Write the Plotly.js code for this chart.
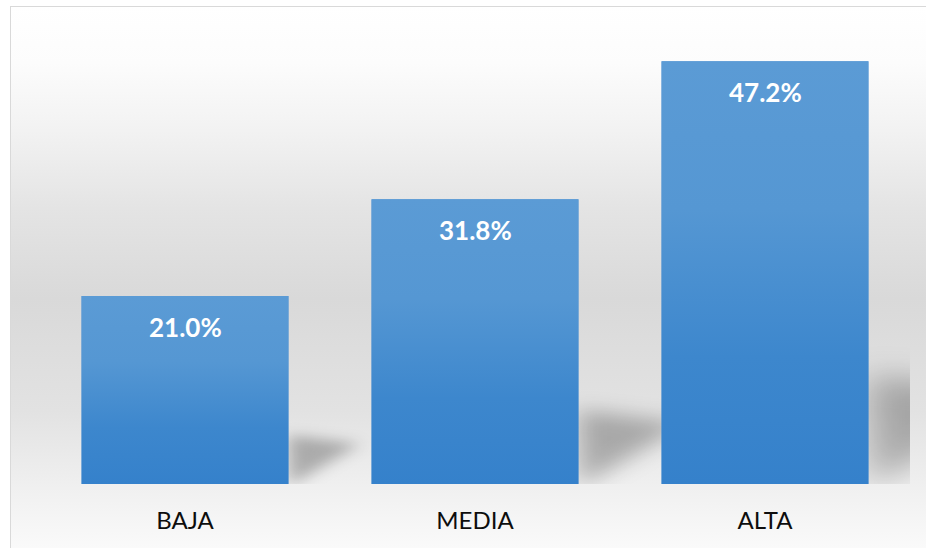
<!DOCTYPE html>
<html>
<head>
<meta charset="utf-8">
<script src="https://cdn.plot.ly/plotly-3.0.1.min.js"></script>
<style>
  html, body { margin: 0; padding: 0; background: #ffffff; overflow: hidden; }
  #bg {
    position: absolute; left: 10px; top: 6px; width: 940px; height: 560px;
    border: 1px solid #d9d9d9;
    background: linear-gradient(to bottom,
      #ffffff 0%, #fcfcfc 10%, #f3f3f3 21%, #e4e4e4 36%, #d9d9d9 52%,
      #e2e2e2 72%, #f1f1f1 87%, #fdfdfd 100%);
  }
  #chart { position: absolute; left: 0; top: 0; width: 926px; height: 548px; }
</style>
</head>
<body>
<div id="bg"></div>
<div id="chart"></div>
<script>
// ---- data ----
const categories = ['BAJA', 'MEDIA', 'ALTA'];
const values = [21.0, 31.8, 47.2];
const valueLabels = ['21.0%', '31.8%', '47.2%'];

// ---- style ----
const BAR_W = 0.714;
const TOP_COLOR = '#5b9bd5';
const BOTTOM_COLOR = '#3581cb';
const FONT = 'Lato, "Open Sans", sans-serif';

const idx = categories.map((c, i) => i);

function svgURI(svg) {
  return 'data:image/svg+xml;charset=utf-8,' + encodeURIComponent(svg);
}

const barGradient = svgURI(
  '<svg xmlns="http://www.w3.org/2000/svg" width="100" height="100" viewBox="0 0 100 100" preserveAspectRatio="none">' +
  '<defs><linearGradient id="g" x1="0" y1="0" x2="0" y2="1">' +
  '<stop offset="0" stop-color="' + TOP_COLOR + '"/>' +
  '<stop offset="0.35" stop-color="#5597d3"/>' +
  '<stop offset="0.7" stop-color="#3d87cd"/>' +
  '<stop offset="1" stop-color="' + BOTTOM_COLOR + '"/>' +
  '</linearGradient></defs>' +
  '<rect x="0" y="0" width="100" height="100" fill="url(#g)"/></svg>'
);

const shadowSVG = svgURI(
  '<svg xmlns="http://www.w3.org/2000/svg" width="180" height="180" viewBox="-30 -40 180 180" preserveAspectRatio="none">' +
  '<defs><filter id="b" x="-80%" y="-80%" width="260%" height="260%"><feGaussianBlur stdDeviation="13"/></filter></defs>' +
  '<polygon points="0,105 0,0 105,18" fill="rgba(0,0,0,0.27)" filter="url(#b)"/></svg>'
);

const images = [];
idx.forEach((i) => {
  const v = values[i];
  const H = v * 0.26;          // shadow height (data units)
  const L = v * 0.0111;        // shadow length (category units)
  const xR = i + BAR_W / 2;
  images.push({
    source: shadowSVG, xref: 'x', yref: 'y',
    x: xR - 0.3 * L, y: 1.4 * H, sizex: 1.8 * L, sizey: 1.8 * H,
    xanchor: 'left', yanchor: 'top', sizing: 'stretch', layer: 'below'
  });
  images.push({
    source: barGradient, xref: 'x', yref: 'y',
    x: i - BAR_W / 2, y: v, sizex: BAR_W, sizey: v,
    xanchor: 'left', yanchor: 'top', sizing: 'stretch', layer: 'above'
  });
});

const annotations = idx.map((i) => ({
  x: i, y: values[i], xref: 'x', yref: 'y',
  text: '<b>' + valueLabels[i] + '</b>',
  showarrow: false, yanchor: 'middle', yshift: -31,
  font: { family: FONT, size: 26, color: '#ffffff' }
}));

const trace = {
  type: 'bar',
  x: idx,
  y: values,
  width: BAR_W,
  marker: { color: '#4a8fd2', line: { width: 0 } },
  hoverinfo: 'none'
};

const layout = {
  width: 926, height: 548,
  margin: { l: 40, r: 16, t: 20, b: 64 },
  paper_bgcolor: 'rgba(0,0,0,0)',
  plot_bgcolor: 'rgba(0,0,0,0)',
  showlegend: false,
  xaxis: {
    range: [-0.5, 2.5],
    tickvals: idx, ticktext: categories,
    showgrid: false, zeroline: false, showline: false, ticks: '',
    ticklabelstandoff: 20,
    tickfont: { family: FONT, size: 24, color: '#0d0d0d' },
    fixedrange: true
  },
  yaxis: {
    range: [0, 51.8], visible: false, showgrid: false, zeroline: false, fixedrange: true
  },
  images: images,
  annotations: annotations
};

Plotly.newPlot('chart', [trace], layout, { displayModeBar: false, staticPlot: true });
</script>
</body>
</html>
